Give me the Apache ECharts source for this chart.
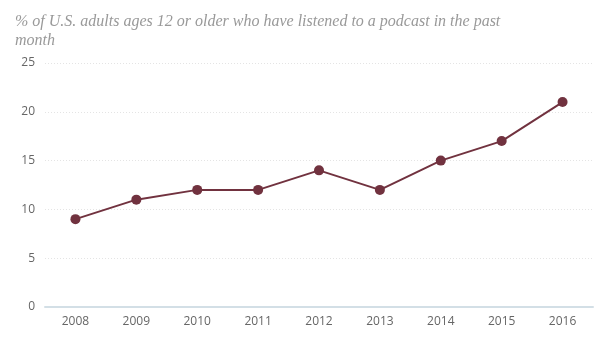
<!DOCTYPE html>
<html><head><meta charset="utf-8">
<script src="https://cdn.jsdelivr.net/npm/echarts@6/dist/echarts.min.js"></script>
<style>html,body{margin:0;padding:0;background:#fff}#c{width:600px;height:337px}</style>
</head><body><div id="c"></div>
<script>
const categories = ['2008','2009','2010','2011','2012','2013','2014','2015','2016'];
const values = [9, 11, 12, 12, 14, 12, 15, 17, 21];
const yTicks = [0, 5, 10, 15, 20, 25];
const titleText = '% of U.S. adults ages 12 or older who have listened to a podcast in the past\nmonth';

const chart = echarts.init(document.getElementById('c'));
chart.setOption({
  animation: false,
  title: {
    text: titleText, left: 10, top: 7,
    textStyle: { fontFamily: 'Liberation Serif', fontStyle: 'italic', fontWeight: 'normal', fontSize: 16, color: '#999', lineHeight: 19 }
  },
  grid: { left: 45, right: 7, top: 63, bottom: 30, containLabel: false },
  xAxis: {
    type: 'category', data: categories, boundaryGap: true,
    axisLine: { lineStyle: { color: '#d3dfe6', width: 2 } },
    axisTick: { show: false },
    axisLabel: { color: '#666', fontSize: 12, fontFamily: 'Open Sans', margin: 9 }
  },
  yAxis: {
    type: 'value', min: yTicks[0], max: yTicks[yTicks.length-1], interval: 5,
    axisLine: { show: false }, axisTick: { show: false },
    axisLabel: { color: '#666', fontSize: 12, fontFamily: 'Open Sans', margin: 10 },
    splitLine: { lineStyle: { color: '#e4e4e4', type: [1, 2] } }
  },
  series: [{
    type: 'line', data: values, symbol: 'circle', symbolSize: 10,
    lineStyle: { color: '#71323f', width: 2 },
    itemStyle: { color: '#71323f' }
  }]
});
</script></body></html>
